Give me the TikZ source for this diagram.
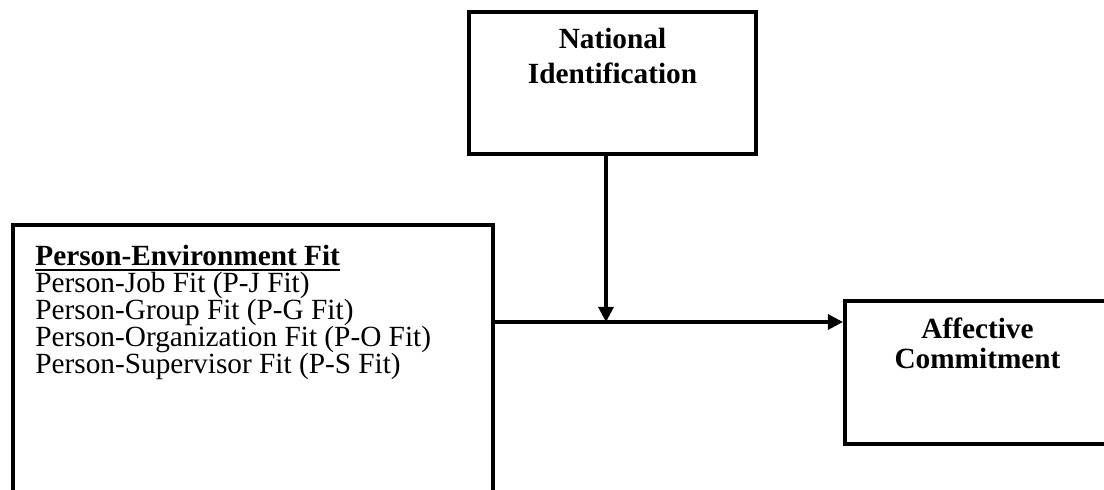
\documentclass[tikz,border=0pt]{standalone}
\usepackage{fontspec}
\setmainfont{Liberation Serif}
\usetikzlibrary{arrows.meta}
\newcommand{\headline}[1]{\setbox0\hbox{#1}\rlap{\rule[-2.6pt]{\wd0}{1pt}}\box0}
\tikzset{
	framebox/.style={draw, line width=1.9pt, inner sep=0pt},
	link/.style={line width=1.45pt, -{Triangle[length=7.2pt,width=7.2pt]}},
}

\begin{document}
\begin{tikzpicture}[x=0.478pt, y=-0.478pt]
			%%%%% START %%%%%
			\path[use as bounding box, clip] (0,0) rectangle (1104,489);
			
			% boxes
			\node[framebox, minimum width=137.2pt, minimum height=67.9pt] (nid) at (612.5,83) {};
			\node[framebox, minimum width=229.4pt, minimum height=141pt] (pef) at (253,372.5) {};
			\node[framebox, minimum width=126.7pt, minimum height=68.4pt] (ac) at (977.5,372.5) {};
			
			% texts (base = last line)
			\node[anchor=base, align=center, inner sep=0pt, font=\fontsize{14}{16.7}\selectfont\bfseries] (nidtext) at (612.5,83) {National\\Identification};
			\node[anchor=base, align=center, inner sep=0pt, font=\fontsize{14}{14.3}\selectfont\bfseries] (actext) at (977.5,368) {Affective\\Commitment};
			\node[anchor=base west, align=left, inner sep=0pt, font=\fontsize{14}{12.8}\selectfont] (peftext) at (35,373) {\headline{\bfseries Person-Environment Fit}\\Person-Job Fit (P-J Fit)\\Person-Group Fit (P-G Fit)\\Person-Organization Fit (P-O Fit)\\Person-Supervisor Fit (P-S Fit)};
			
			% arrows
			\coordinate (join) at (606,322);
			\draw[link] (nid.south -| join) -- (join);
			\draw[link] (pef.east |- join) -- (ac.west |- join);
			%%%%% END %%%%%
\end{tikzpicture}
\end{document}
